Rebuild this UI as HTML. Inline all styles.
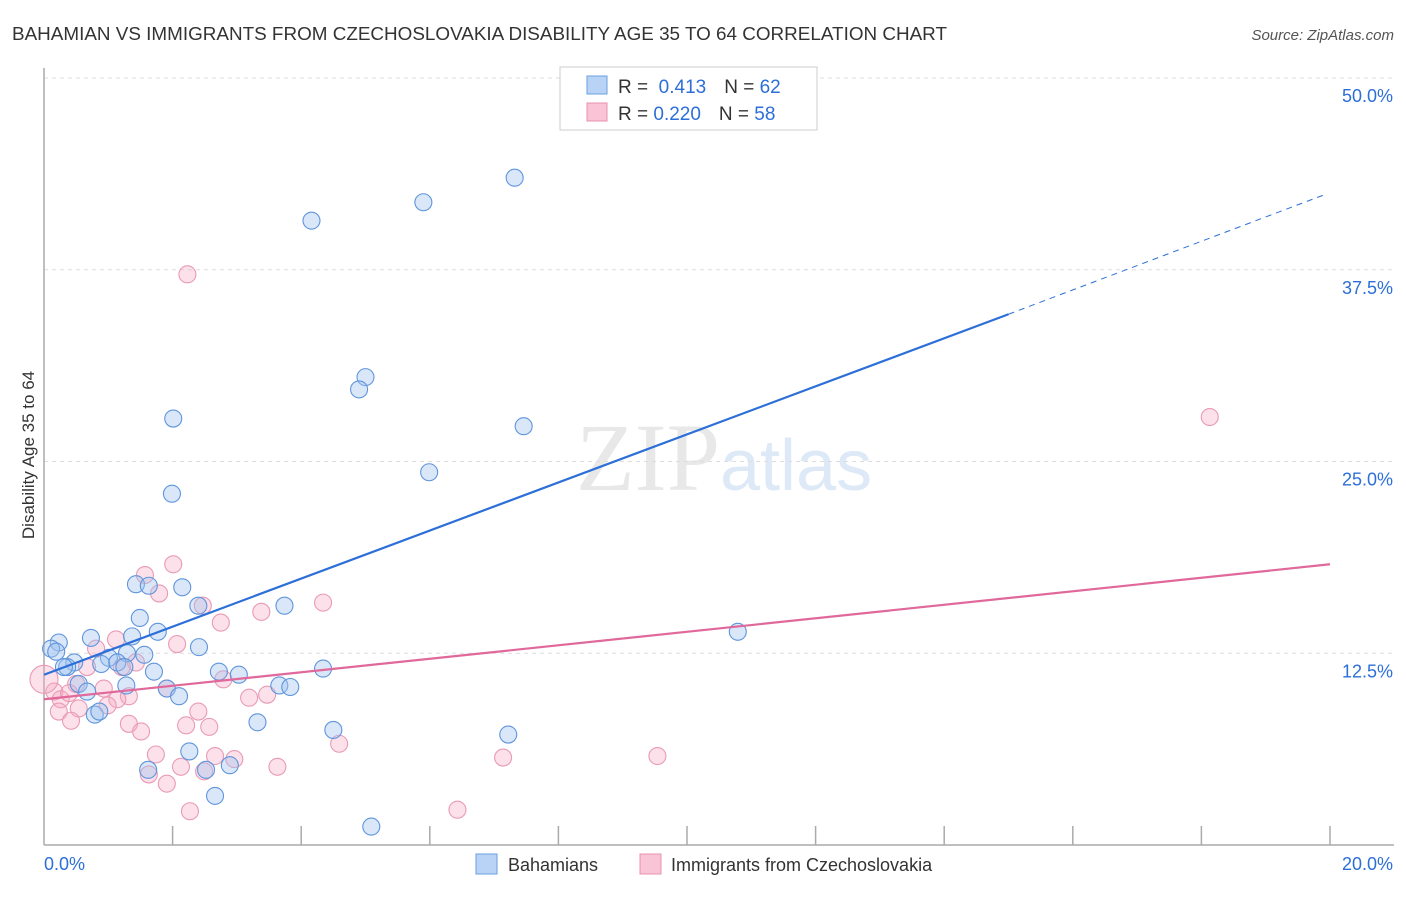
<!DOCTYPE html>
<html><head><meta charset="utf-8"><style>
body{margin:0;background:#fff;font-family:"Liberation Sans",sans-serif;}
</style></head><body>
<svg width="1406" height="892" xmlns="http://www.w3.org/2000/svg">
<text x="12" y="40" font-size="18" fill="#333" textLength="935" lengthAdjust="spacingAndGlyphs">BAHAMIAN VS IMMIGRANTS FROM CZECHOSLOVAKIA DISABILITY AGE 35 TO 64 CORRELATION CHART</text>
<text x="1394" y="40" font-size="15" fill="#555" font-style="italic" text-anchor="end">Source: ZipAtlas.com</text>
<text x="720" y="490" font-size="96" fill="#e8e8e8" text-anchor="end" font-family="Liberation Serif">ZIP</text>
<text x="720" y="490" font-size="72" fill="#dde9f7">atlas</text>
<g id="grid"></g>
<g id="axes"></g>
<g id="pts"></g>
<g id="lines"></g>
<text transform="translate(34,455) rotate(-90)" font-size="17" fill="#333" text-anchor="middle">Disability Age 35 to 64</text>
<g>
<rect x="560" y="67" width="257" height="63" fill="#fff" stroke="#ccc"/>
<rect x="587" y="76" width="20" height="18" fill="#b8d3f5" stroke="#6a9fe0"/>
<rect x="587" y="103" width="20" height="18" fill="#f9c5d6" stroke="#e890ae"/>
<text x="618" y="93" font-size="19" fill="#333">R = <tspan fill="#2c6fd8">&#160;0.413</tspan><tspan dx="18">N = </tspan><tspan fill="#2c6fd8">62</tspan></text>
<text x="618" y="120" font-size="19" fill="#333">R = <tspan fill="#2c6fd8">0.220</tspan><tspan dx="18">N = </tspan><tspan fill="#2c6fd8">58</tspan></text>
</g>
<g>
<rect x="476" y="854" width="21" height="20" fill="#b8d3f5" stroke="#6a9fe0"/>
<text x="508" y="871" font-size="18" fill="#333">Bahamians</text>
<rect x="640" y="854" width="21" height="20" fill="#f9c5d6" stroke="#e890ae"/>
<text x="671" y="871" font-size="18" fill="#333">Immigrants from Czechoslovakia</text>
</g>
</svg>
<script>
const yTicks=[12.5,25.0,37.5,50.0];
const blueX=[7.32,5.90,4.16,5.00,4.90,2.01,7.46,5.99,1.99,1.43,1.63,2.15,1.49,2.40,3.74,1.77,10.79,0.73,1.37,0.23,2.41,0.11,0.19,1.29,1.56,1.01,0.47,0.89,1.14,0.36,1.25,1.71,2.72,3.03,4.34,0.54,1.28,1.91,3.66,3.83,0.67,2.10,0.79,0.86,3.32,4.50,7.22,2.26,1.62,2.52,2.89,2.66,5.09,0.31];
const blueY=[43.5,41.9,40.7,30.5,29.7,27.8,27.3,24.3,22.9,17.0,16.9,16.8,14.8,15.6,15.6,13.9,13.9,13.5,13.6,13.2,12.9,12.8,12.6,12.5,12.4,12.2,11.9,11.8,11.9,11.6,11.6,11.3,11.3,11.1,11.5,10.5,10.4,10.2,10.4,10.3,10.0,9.7,8.5,8.7,8.0,7.5,7.2,6.1,4.9,4.9,5.2,3.2,1.2,11.6];
const pinkX=[2.23,18.13,2.01,1.57,1.79,2.47,4.34,3.38,2.75,1.12,2.07,0.81,1.43,1.21,0.67,0.50,0.93,1.91,2.79,3.47,3.19,0.16,0.26,0.39,1.32,1.14,0.99,0.54,0.23,0.42,1.32,2.21,2.57,2.40,1.51,4.59,1.74,2.66,2.96,7.14,9.54,2.13,1.63,2.49,3.63,1.91,2.27,6.43,0];
const pinkY=[37.2,27.9,18.3,17.6,16.4,15.6,15.8,15.2,14.5,13.4,13.1,12.8,11.9,11.6,11.6,10.5,10.2,10.2,10.8,9.8,9.6,10.0,9.5,9.9,9.7,9.5,9.1,8.9,8.7,8.1,7.9,7.8,7.7,8.7,7.4,6.6,5.9,5.8,5.6,5.7,5.8,5.1,4.6,4.8,5.1,4.0,2.2,2.3,10.8];
const blueTrend=[[0,11.1],[15.0,34.6],[20,42.6]];
const pinkTrend=[[0,9.5],[20,18.3]];
const NS='http://www.w3.org/2000/svg';
const X=v=>44+v/20*1286, Y=v=>845-v/50*767;
function mk(t,a,p){const e=document.createElementNS(NS,t);for(const k in a)e.setAttribute(k,a[k]);p.appendChild(e);return e;}
const grid=document.getElementById('grid');
yTicks.forEach(t=>{const l=mk('line',{x1:44,x2:1394,y1:Y(t),y2:Y(t),stroke:'#ddd','stroke-dasharray':'4,4'},grid);


const tx=mk('text',{x:1393,y:Y(t)+24,'font-size':18,fill:'#2c6fd8','text-anchor':'end'},grid);tx.textContent=t.toFixed(1)+'%';

});
const ax=document.getElementById('axes');
mk('line',{x1:44,x2:44,y1:68,y2:845,stroke:'#aaa','stroke-width':1.5},ax);
mk('line',{x1:44,x2:1394,y1:845,y2:845,stroke:'#aaa','stroke-width':1.5},ax);
for(let i=1;i<=10;i++){mk('line',{x1:X(i*2),x2:X(i*2),y1:826,y2:845,stroke:'#aaa','stroke-width':1.5},ax);}
let t0=mk('text',{x:44,y:870,'font-size':18,fill:'#2c6fd8'},ax);t0.textContent='0.0%';


let t1=mk('text',{x:1393,y:870,'font-size':18,fill:'#2c6fd8','text-anchor':'end'},ax);t1.textContent='20.0%';


const pts=document.getElementById('pts');
pinkX.forEach((v,i)=>{const c=mk('circle',{cx:X(v),cy:Y(pinkY[i]),r:i==pinkX.length-1?14:8.5,fill:'rgba(245,170,195,0.35)',stroke:'#e99ab5','stroke-width':1.1},pts);

});
blueX.forEach((v,i)=>{const c=mk('circle',{cx:X(v),cy:Y(blueY[i]),r:8.5,fill:'rgba(160,195,240,0.4)',stroke:'#5f95dc','stroke-width':1.1},pts);

});
const ln=document.getElementById('lines');
let b1=mk('line',{x1:X(blueTrend[0][0]),y1:Y(blueTrend[0][1]),x2:X(blueTrend[1][0]),y2:Y(blueTrend[1][1]),stroke:'#2c6fd8','stroke-width':2.2},ln);


let b2=mk('line',{x1:X(blueTrend[1][0]),y1:Y(blueTrend[1][1]),x2:X(blueTrend[2][0])-5,y2:Y(blueTrend[2][1])+3,stroke:'#2c6fd8','stroke-width':1,'stroke-dasharray':'6,5'},ln);


let p1=mk('line',{x1:X(pinkTrend[0][0]),y1:Y(pinkTrend[0][1]),x2:X(pinkTrend[1][0]),y2:Y(pinkTrend[1][1]),stroke:'#e0689a','stroke-width':2.2},ln);


</script>
</body></html>
